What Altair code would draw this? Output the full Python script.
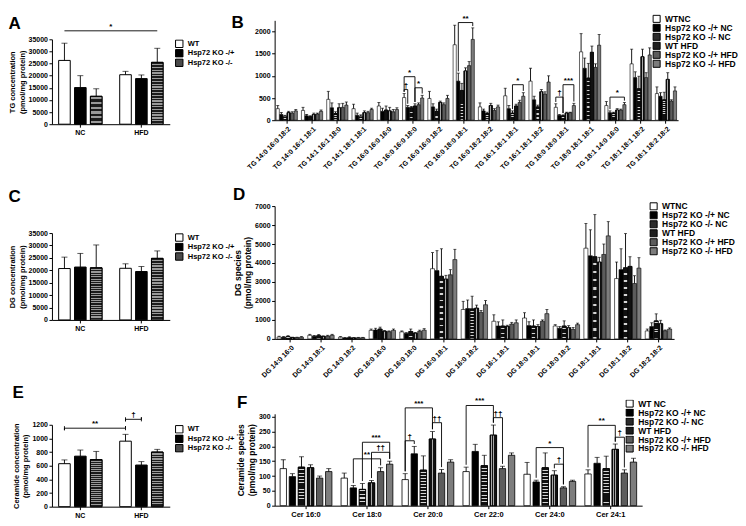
import altair as alt
import pandas as pd

FONT = "Liberation Sans"

# ---------------- Panels A / C / E : totals ----------------
diets = ["NC", "HFD"]
genotypes = ["WT", "Hsp72 KO -/+", "Hsp72 KO -/-"]

# values per genotype: [NC, HFD]  (mean, and mean+SEM = top of error bar)
tg_wt = [26300, 20400]
tg_het = [15100, 18800]
tg_hom = [11500, 25500]
tg_wt_top = [33400, 21800]
tg_het_top = [20000, 20300]
tg_hom_top = [14600, 31300]

dg_wt = [20700, 20800]
dg_het = [21300, 19500]
dg_hom = [21000, 24800]
dg_wt_top = [25300, 22600]
dg_het_top = [26800, 21500]
dg_hom_top = [30200, 27800]

cer_wt = [630, 960]
cer_het = [740, 610]
cer_hom = [690, 800]
cer_wt_top = [685, 1060]
cer_het_top = [830, 660]
cer_hom_top = [810, 840]

conc_ticks = [0, 5000, 10000, 15000, 20000, 25000, 30000, 35000]
cer_ticks = [0, 200, 400, 600, 800, 1000, 1200]

# ---------------- Panel B : TG species ----------------
tg_species = ["TG 14:0 16:0 18:2", "TG 14:0 16:1 18:1", "TG 14:1 16:1 18:0", "TG 14:1 18:1 18:1",
              "TG 16:0 16:0 16:0", "TG 16:0 16:0 18:0", "TG 16:0 16:0 18:2", "TG 16:0 18:0 18:1",
              "TG 16:0 18:2 18:2", "TG 16:1 18:1 18:1", "TG 16:1 18:1 18:2", "TG 18:0 18:0 18:1",
              "TG 18:0 18:1 18:1", "TG 18:1 14:0 16:0", "TG 18:1 18:1 18:2", "TG 18:1 18:2 18:2"]
series_b = ["WTNC", "Hsp72 KO -/+ NC", "Hsp72 KO -/- NC", "WT HFD", "Hsp72 KO -/+ HFD", "Hsp72 KO -/- HFD"]

tg_wtnc = [260, 220, 470, 260, 320, 510, 490, 1700, 300, 550, 880, 290, 1540, 330, 1270, 600]
tg_het_nc = [130, 100, 280, 110, 200, 290, 300, 880, 210, 260, 460, 110, 1170, 170, 960, 540]
tg_hom_nc = [90, 80, 150, 90, 230, 280, 200, 670, 150, 160, 300, 100, 950, 160, 710, 460]
tg_wt_hfd = [170, 130, 280, 170, 210, 320, 400, 1110, 330, 320, 640, 160, 1530, 230, 1430, 920]
tg_het_hfd = [160, 140, 290, 170, 190, 350, 350, 1230, 220, 400, 590, 170, 1190, 230, 960, 430]
tg_hom_hfd = [210, 200, 340, 240, 240, 500, 490, 1820, 300, 540, 860, 330, 1690, 350, 1470, 660]

tg_wtnc_top = [330, 290, 650, 360, 400, 600, 650, 2140, 390, 720, 1170, 370, 1950, 420, 1600, 750]
tg_het_nc_top = [175, 130, 390, 160, 270, 330, 370, 1060, 250, 330, 540, 130, 1400, 210, 1090, 620]
tg_hom_nc_top = [110, 100, 190, 120, 320, 310, 250, 830, 180, 210, 340, 120, 1280, 180, 990, 630]
tg_wt_hfd_top = [200, 160, 370, 210, 290, 370, 430, 1180, 380, 360, 690, 180, 1670, 260, 1600, 1070]
tg_het_hfd_top = [190, 160, 380, 200, 240, 390, 390, 1320, 260, 450, 640, 180, 1270, 250, 1070, 460]
tg_hom_hfd_top = [240, 230, 410, 270, 280, 560, 560, 2080, 340, 620, 1000, 380, 1930, 400, 1630, 750]

tg_species_ticks = [0, 500, 1000, 1500, 2000]

# ---------------- Panel D : DG species ----------------
dg_species = ["DG 14:0 16:0", "DG 14:0 18:1", "DG 14:0 18:2", "DG 16:0 16:0", "DG 16:0 18:0",
              "DG 16:0 18:1", "DG 16:0 18:2", "DG 16:1 18:1", "DG 18:0 18:1", "DG 18:0 18:2",
              "DG 18:1 18:1", "DG 18:1 18:2", "DG 18:2 18:2"]

dg_wtnc = [100, 190, 90, 450, 370, 3700, 1550, 930, 1100, 680, 4780, 3180, 420]
dg_het_nc = [90, 140, 50, 470, 290, 3600, 1600, 680, 700, 560, 4380, 3650, 650]
dg_hom_nc = [120, 170, 60, 520, 390, 3300, 1580, 680, 680, 680, 4330, 3750, 950]
dg_wt_hfd = [70, 130, 50, 400, 300, 3150, 1620, 660, 650, 590, 4050, 3820, 800]
dg_het_hfd = [70, 150, 60, 380, 400, 3380, 1400, 780, 930, 500, 4450, 2920, 430]
dg_hom_hfd = [90, 190, 60, 450, 460, 4180, 1800, 850, 1330, 750, 5430, 3730, 520]

dg_wtnc_top = [140, 240, 120, 520, 420, 4550, 1980, 1270, 1380, 750, 6080, 4050, 520]
dg_het_nc_top = [120, 180, 70, 560, 330, 4650, 2050, 900, 900, 650, 5750, 4750, 850]
dg_hom_nc_top = [170, 230, 110, 620, 520, 4750, 2250, 1000, 1000, 950, 6550, 5550, 1320]
dg_wt_hfd_top = [90, 160, 70, 440, 340, 3350, 1780, 720, 750, 700, 4300, 4330, 980]
dg_het_hfd_top = [90, 190, 80, 420, 460, 3650, 1500, 870, 1000, 600, 5000, 3330, 470]
dg_hom_hfd_top = [120, 240, 80, 520, 540, 4720, 2020, 1000, 1550, 830, 6180, 4280, 580]

dg_species_ticks = [0, 1000, 2000, 3000, 4000, 5000, 6000, 7000]

# ---------------- Panel F : ceramide species ----------------
cer_species = ["Cer 16:0", "Cer 18:0", "Cer 20:0", "Cer 22:0", "Cer 24:0", "Cer 24:1"]
series_f = ["WT NC", "Hsp72 KO -/+ NC", "Hsp72 KO -/- NC", "WT HFD", "Hsp72 KO -/+ HFD", "Hsp72 KO -/- HFD"]

cer_wtnc = [125, 93, 88, 115, 106, 107]
cer_het_nc = [98, 60, 175, 183, 80, 143]
cer_hom_nc = [130, 55, 120, 135, 128, 125]
cer_wt_hfd = [128, 77, 225, 238, 103, 190]
cer_het_hfd = [93, 115, 110, 125, 60, 110]
cer_hom_hfd = [115, 140, 147, 170, 82, 147]

cer_wtnc_top = [155, 110, 108, 130, 146, 121]
cer_het_nc_top = [108, 68, 200, 207, 86, 163]
cer_hom_nc_top = [165, 75, 168, 170, 178, 167]
cer_wt_hfd_top = [138, 85, 250, 272, 118, 208]
cer_het_hfd_top = [100, 128, 122, 133, 64, 121]
cer_hom_hfd_top = [125, 150, 155, 178, 86, 160]

cer_species_ticks = [0, 50, 100, 150, 200, 250, 300]

# ---------------- significance annotations ----------------
# (left group, left series, right group, right series, level, label)
sig_a = [(0, 0, 1, 2, 38500, "*")]
sig_b = [(5, 0, 5, 3, 980, "*"), (5, 0, 5, 1, 690, "\u2020"), (5, 3, 5, 5, 730, "*"),
         (7, 1, 7, 5, 2200, "**"), (9, 2, 9, 5, 800, "*"), (11, 0, 11, 2, 520, "\u2020"),
         (11, 2, 11, 5, 800, "***"), (13, 1, 13, 5, 520, "*")]
sig_e = [(0, 0, 1, 0, 1150, "**"), (1, 0, 1, 1, 1280, "\u2020")]
sig_f = [(1, 1, 1, 4, 158, "**"), (1, 2, 1, 5, 214, "***"), (1, 3, 1, 5, 180, "\u2020\u2020"),
         (2, 0, 2, 3, 330, "***"), (2, 0, 2, 1, 219, "\u2020"), (2, 3, 2, 4, 280, "\u2020\u2020"),
         (3, 0, 3, 3, 338, "***"), (3, 3, 3, 4, 297, "\u2020\u2020"),
         (4, 1, 4, 4, 196, "*"), (4, 3, 4, 4, 140, "\u2020"),
         (5, 0, 5, 3, 271, "**"), (5, 3, 5, 4, 231, "\u2020")]


# ---------------- styling helpers ----------------
def hstripes(n, c1, c2, frac):
    stops = []
    for i in range(n):
        a, b, c = i / n, (i + frac) / n, (i + 1) / n
        stops += [{"offset": a, "color": c1}, {"offset": b, "color": c1},
                  {"offset": b, "color": c2}, {"offset": c, "color": c2}]
    return {"gradient": "linear", "x1": 0, "y1": 0, "x2": 0, "y2": 1, "stops": stops}


def vstripes(cuts, dark, light):
    stops = []
    edges = [0.0] + cuts + [1.0]
    for i in range(len(edges) - 1):
        col = dark if i % 2 == 0 else light
        stops += [{"offset": edges[i], "color": col}, {"offset": edges[i + 1], "color": col}]
    return {"gradient": "linear", "x1": 0, "y1": 0, "x2": 1, "y2": 0, "stops": stops}


colors3 = ["white", "black", "#4a4a4a"]
over3 = {2: hstripes(22, "#1c1c1c", "#9a9a9a", 0.55)}
colors6 = ["white", "black", "#2b2b2b", "#1e1e1e", "#5c5c5c", "#7d7d7d"]
over6_narrow = {2: hstripes(10, "#111111", "#d5d5d5", 0.72), 3: vstripes([0.38, 0.62], "#111111", "#a8a8a8")}
over6_wide = {2: hstripes(12, "#111111", "#d5d5d5", 0.72),
              3: vstripes([0.2, 0.3, 0.45, 0.55, 0.7, 0.8], "#111111", "#a8a8a8")}


def panel(cats, series, means, tops, colors, overlays, W, H, geo, ydom, yticks, ytitle,
          ytitle_size, letter, t_offset, t_dx, legend, xangle, xlabel_size, sigs, style, pad,
          cap, bar_sw):
    n, m = len(cats), len(series)
    pi, po, psi = geo
    rows = []
    for si, s in enumerate(series):
        for gi, c in enumerate(cats):
            rows.append({"cat": c, "ser": s, "mean": means[si][gi], "top": tops[si][gi]})
    df = pd.DataFrame(rows)

    xaxis_kw = dict(title=None, labelAngle=xangle, labelFontSize=xlabel_size, ticks=True)
    if xangle != 0:
        xaxis_kw.update(labelAlign="right", labelBaseline="top")
    xch = alt.X("cat:N", sort=cats, scale=alt.Scale(domain=cats, paddingInner=pi, paddingOuter=po),
                axis=alt.Axis(**xaxis_kw))
    xo = alt.XOffset("ser:N", sort=series,
                     scale=alt.Scale(domain=series, paddingInner=psi, paddingOuter=0))

    def ych(f):
        return alt.Y(f, scale=alt.Scale(domain=ydom, nice=False, zero=True),
                     axis=alt.Axis(values=yticks, title=ytitle, format="d",
                                   titleFontSize=ytitle_size))

    layers = []
    layers.append(alt.Chart(df).mark_bar(stroke="black", strokeWidth=bar_sw).encode(
        x=xch, xOffset=xo, y=ych("mean:Q"),
        color=alt.Color("ser:N", sort=series, scale=alt.Scale(domain=series, range=colors),
                        legend=alt.Legend(**legend))))
    for si, grad in overlays.items():
        layers.append(alt.Chart(df[df["ser"] == series[si]]).mark_bar(
            fill=grad, stroke="black", strokeWidth=bar_sw).encode(x=xch, xOffset=xo, y=ych("mean:Q")))
    layers.append(alt.Chart(df).mark_rule(color="black", strokeWidth=0.9).encode(
        x=xch, xOffset=xo, y=ych("mean:Q"), y2="top:Q"))
    layers.append(alt.Chart(df).mark_tick(color="black", thickness=0.9, size=cap).encode(
        x=xch, xOffset=xo, y=ych("top:Q")))

    # geometry of the band scales (for centring the star labels)
    step = W / (n - pi + 2 * po)
    bw = step * (1 - pi)
    sstep = bw / (m - psi)

    def center(g, s):
        return po * step + g * step + s * sstep + sstep * (1 - psi) / 2

    pts = []
    for k, (gL, sL, gR, sR, lev, lab) in enumerate(sigs):
        if style == "bracket":
            seq = [(gL, sL, tops[sL][gL] + pad), (gL, sL, lev), (gR, sR, lev), (gR, sR, tops[sR][gR] + pad)]
        elif style == "capped":
            seq = [(gL, sL, lev + pad), (gL, sL, lev - pad), (gL, sL, lev),
                   (gR, sR, lev), (gR, sR, lev + pad), (gR, sR, lev - pad)]
        else:
            seq = [(gL, sL, lev), (gR, sR, lev)]
        for o, (g, s, yv) in enumerate(seq):
            pts.append({"cat": cats[g], "ser": series[s], "y": yv, "id": k, "ord": o})
    if pts:
        layers.append(alt.Chart(pd.DataFrame(pts)).mark_line(color="black", strokeWidth=0.9).encode(
            x=xch, xOffset=xo, y=ych("y:Q"), detail="id:N", order="ord:Q"))
    for (gL, sL, gR, sR, lev, lab) in sigs:
        dx = (center(gR, sR) - center(gL, sL)) / 2
        tdf = pd.DataFrame([{"cat": cats[gL], "ser": series[sL], "y": lev}])
        layers.append(alt.Chart(tdf).mark_text(
            text=lab, dx=dx, dy=0, baseline="bottom", align="center", font=FONT,
            fontSize=8, fontWeight="bold", color="black").encode(x=xch, xOffset=xo, y=ych("y:Q")))

    return alt.layer(*layers).properties(
        width=W, height=H,
        title=alt.TitleParams(letter, anchor="start", offset=t_offset, dx=t_dx, fontSize=17,
                              font=FONT, fontWeight="bold", color="black"))


leg_small = dict(title=None, orient="right", offset=5, symbolType="square", symbolSize=55,
                 symbolStrokeColor="black", symbolStrokeWidth=1, labelFontSize=7.5,
                 labelFont=FONT, labelFontWeight="bold", rowPadding=0.5, labelOffset=4,
                 clipHeight=9)


def leg_big(x, y, h, rp):
    return dict(title=None, orient="none", legendX=x, legendY=y, symbolType="square",
                symbolSize=50, symbolStrokeColor="black", symbolStrokeWidth=1, labelFontSize=8.5,
                labelFont=FONT, labelFontWeight="bold", rowPadding=rp, labelOffset=4,
                clipHeight=h)


pA = panel(diets, genotypes, [tg_wt, tg_het, tg_hom], [tg_wt_top, tg_het_top, tg_hom_top],
           colors3, over3, 118, 85, (0.29, 0.11, 0.27), [0, 35000], conc_ticks,
           ["TG concentration", "(pmol/mg protein)"], 7.5, "A", -10, 0, leg_small, 0, 7,
           sig_a, "flat", 0, 6, 1)

pC = panel(diets, genotypes, [dg_wt, dg_het, dg_hom], [dg_wt_top, dg_het_top, dg_hom_top],
           colors3, over3, 118, 87, (0.29, 0.11, 0.27), [0, 35000], conc_ticks,
           ["DG concentration", "(pmol/mg protein)"], 7.5, "C", 23, 0, leg_small, 0, 7,
           [], "flat", 0, 6, 1)

pE = panel(diets, genotypes, [cer_wt, cer_het, cer_hom], [cer_wt_top, cer_het_top, cer_hom_top],
           colors3, over3, 118, 82, (0.29, 0.11, 0.27), [0, 1200], cer_ticks,
           ["Ceramide concentration", "(pmol/mg protein)"], 7.5, "E", 9, 0, leg_small, 0, 7,
           sig_e, "capped", 30, 6, 1)

pB = panel(tg_species, series_b,
           [tg_wtnc, tg_het_nc, tg_hom_nc, tg_wt_hfd, tg_het_hfd, tg_hom_hfd],
           [tg_wtnc_top, tg_het_nc_top, tg_hom_nc_top, tg_wt_hfd_top, tg_het_hfd_top, tg_hom_hfd_top],
           colors6, over6_narrow, 404, 100, (0.16, 0.06, 0.12), [0, 2250], tg_species_ticks,
           None, 8, "B", -18, -14, leg_big(378, -6, 9, -1), -45, 7, sig_b, "bracket", 40, 3, 0.6)

pD = panel(dg_species, series_b,
           [dg_wtnc, dg_het_nc, dg_hom_nc, dg_wt_hfd, dg_het_hfd, dg_hom_hfd],
           [dg_wtnc_top, dg_het_nc_top, dg_hom_nc_top, dg_wt_hfd_top, dg_het_hfd_top, dg_hom_hfd_top],
           colors6, over6_narrow, 400, 133, (0.14, 0.08, 0.1), [0, 7000], dg_species_ticks,
           ["DG species", "(pmol/mg protein)"], 8.5, "D", -2, 0, leg_big(375, -4, 8.5, -1), -45, 7,
           [], "bracket", 0, 3, 0.6)

pF = panel(cer_species, series_f,
           [cer_wtnc, cer_het_nc, cer_hom_nc, cer_wt_hfd, cer_het_hfd, cer_hom_hfd],
           [cer_wtnc_top, cer_het_nc_top, cer_hom_nc_top, cer_wt_hfd_top, cer_het_hfd_top, cer_hom_hfd_top],
           colors6, over6_wide, 368, 92, (0.15, 0.09, 0.3), [0, 310], cer_species_ticks,
           ["Ceramide species", "(pmol/mg protein)"], 8.5, "F", -15, 0, leg_big(351, -14, 7.5, -2.5),
           0, 7.5, sig_f, "bracket", 8, 5, 0.8)


def indep(c):
    return c.resolve_scale(x="independent", y="independent", color="independent",
                           xOffset="independent").resolve_legend(color="independent")


def spacer():
    return alt.Chart(pd.DataFrame({"v": [0]})).mark_point(opacity=0).encode(
        x=alt.value(0), y=alt.value(0)).properties(width=1, height=1)


left = indep(alt.vconcat(spacer(), indep(alt.vconcat(pA, pC, pE, spacing=52)), spacing=0))
right = indep(alt.vconcat(spacer(), indep(alt.vconcat(pB, pD, pF, spacing=15)), spacing=0))

chart = indep(alt.hconcat(left, right, spacing=-4)).properties(padding=0).configure_view(
    stroke=None
).configure_axis(
    grid=False, domainColor="black", tickColor="black", labelColor="black", titleColor="black",
    labelFont=FONT, titleFont=FONT, labelFontWeight="bold", titleFontWeight="bold",
    labelFontSize=7, tickSize=3, domainWidth=1, tickWidth=1, labelPadding=1.5, titlePadding=2
).configure_legend(labelColor="black")

chart.save("out.html", embed_options={"renderer": "svg", "actions": False})
